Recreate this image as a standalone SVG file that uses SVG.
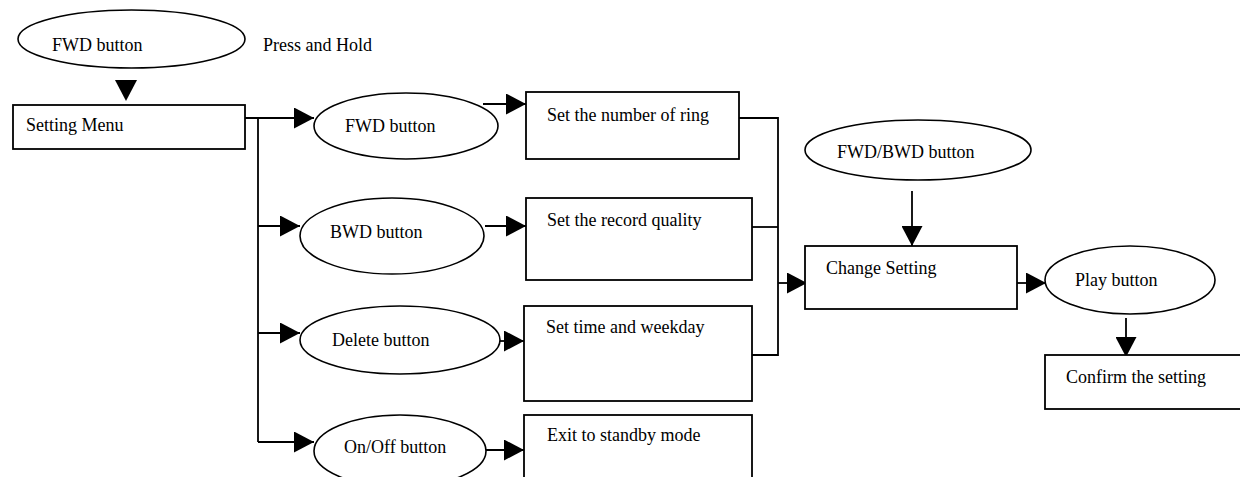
<svg xmlns="http://www.w3.org/2000/svg" width="1240" height="477" viewBox="0 0 1240 477">
  <style>
    .box { fill: #fff; stroke: #000; stroke-width: 1.8; }
    .oval { fill: #fff; stroke: #000; stroke-width: 1.6; }
    .lbl { font-family: "Liberation Serif", "Times New Roman", serif; font-size: 18px; fill: #000; }
    .wire { fill: none; stroke: #000; stroke-width: 1.8; }
    .arr { marker-end: url(#head); }
  </style>
  <defs>
    <marker id="head" markerUnits="userSpaceOnUse" markerWidth="20" markerHeight="21" refX="20" refY="10.5" orient="auto">
      <path d="M0,0 L20,10.5 L0,21 Z" fill="#000"/>
    </marker>
  </defs>

  <rect width="1240" height="477" fill="#fff"/>

  <!-- connectors -->
  <g id="connectors">
    <polygon points="115,80 137,80 126,101" fill="#000"/>
    <path class="wire arr" d="M245,118 H314"/>
    <path class="wire" d="M258,118 V442"/>
    <path class="wire arr" d="M258,226 H300"/>
    <path class="wire arr" d="M258,333 H300"/>
    <path class="wire arr" d="M258,442 H314"/>
    <path class="wire arr" d="M483,104 H526"/>
    <path class="wire arr" d="M485,226 H526"/>
    <path class="wire arr" d="M499,341 H524"/>
    <path class="wire arr" d="M485,450 H524"/>
    <path class="wire" d="M739,118 H778 V355 H752"/>
    <path class="wire" d="M752,227 H778"/>
    <path class="wire arr" d="M778,283 H807"/>
    <path class="wire arr" d="M912,191 V246"/>
    <path class="wire arr" d="M1017,283 H1046"/>
    <path class="wire arr" d="M1126,318 V357"/>
  </g>

  <!-- entry key -->
  <g id="fwd-start">
    <ellipse class="oval" cx="131.5" cy="39" rx="113.5" ry="29"/>
    <text class="lbl" x="52" y="51">FWD button</text>
  </g>
  <g id="press-hold">
    <text class="lbl" x="263" y="51">Press and Hold</text>
  </g>

  <g id="setting-menu">
    <rect class="box" x="13" y="105" width="232" height="44"/>
    <text class="lbl" x="26" y="131">Setting Menu</text>
  </g>

  <!-- key column -->
  <g id="fwd-key">
    <ellipse class="oval" cx="406" cy="126" rx="92" ry="33"/>
    <text class="lbl" x="345" y="132">FWD button</text>
  </g>
  <g id="bwd-key">
    <ellipse class="oval" cx="392" cy="236" rx="92" ry="38"/>
    <text class="lbl" x="330" y="238">BWD button</text>
  </g>
  <g id="delete-key">
    <ellipse class="oval" cx="400" cy="340" rx="100" ry="34"/>
    <text class="lbl" x="332" y="346">Delete button</text>
  </g>
  <g id="onoff-key">
    <ellipse class="oval" cx="400" cy="451" rx="86" ry="36"/>
    <text class="lbl" x="344" y="453">On/Off button</text>
  </g>

  <!-- option column -->
  <g id="ring-count">
    <rect class="box" x="526" y="92" width="213" height="67"/>
    <text class="lbl" x="547" y="121">Set the number of ring</text>
  </g>
  <g id="record-quality">
    <rect class="box" x="526" y="198" width="226" height="82"/>
    <text class="lbl" x="547" y="226">Set the record quality</text>
  </g>
  <g id="time-weekday">
    <rect class="box" x="524" y="306" width="228" height="95"/>
    <text class="lbl" x="546" y="333">Set time and weekday</text>
  </g>
  <g id="standby">
    <rect class="box" x="524" y="415" width="228" height="80"/>
    <text class="lbl" x="547" y="441">Exit to standby mode</text>
  </g>

  <!-- change and confirm -->
  <g id="fwd-bwd-key">
    <ellipse class="oval" cx="918" cy="150" rx="113" ry="30"/>
    <text class="lbl" x="837" y="158">FWD/BWD button</text>
  </g>
  <g id="change-setting">
    <rect class="box" x="805" y="246" width="212" height="63"/>
    <text class="lbl" x="826" y="274">Change Setting</text>
  </g>
  <g id="play-key">
    <ellipse class="oval" cx="1130" cy="280" rx="85" ry="34"/>
    <text class="lbl" x="1075" y="286">Play button</text>
  </g>
  <g id="confirm">
    <rect class="box" x="1045" y="355" width="200" height="54"/>
    <text class="lbl" x="1066" y="383">Confirm the setting</text>
  </g>
</svg>
